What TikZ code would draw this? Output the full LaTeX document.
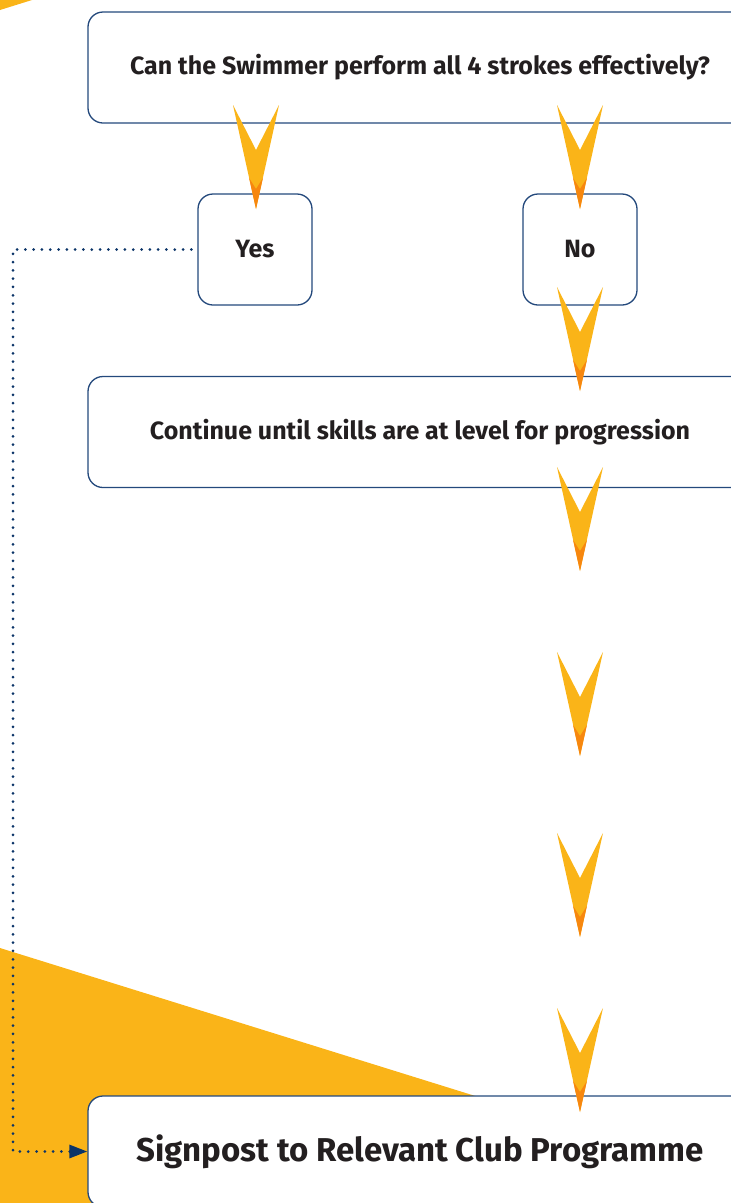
\documentclass[tikz,border=0pt]{standalone}
\usepackage{fontspec}
\setmainfont{Fira Sans}
\usetikzlibrary{arrows.meta}

\definecolor{boxnavy}{HTML}{24497C}
\definecolor{dotnavy}{HTML}{0B3468}
\definecolor{swimyellow}{HTML}{FAB418}
\definecolor{tiporange}{HTML}{F7870F}
\definecolor{textdark}{HTML}{231F20}

% Yellow chevron pointing down: #1 = centre x, #2 = top y
\newcommand{\swimarrow}[2]{%
    \fill[swimyellow] (#1-23,#2) -- (#1,#2+45) -- (#1+23,#2) -- (#1,#2+104) -- cycle;
    \fill[tiporange] (#1-6.9,#2+73) -- (#1,#2+84) -- (#1+6.9,#2+73) -- (#1,#2+104) -- cycle;}

\begin{document}
\begin{tikzpicture}[x=1pt,y=-1pt,
        box/.style={draw=boxnavy, line width=1.3pt, fill=white, rounded corners=15pt,
            text=textdark, inner sep=0pt, font=\bfseries\fontsize{25}{30}\selectfont},
        widebox/.style={box, minimum width=664pt, minimum height=111pt},
        answerbox/.style={box, minimum width=114pt, minimum height=111pt},
        link/.style={draw=dotnavy, line width=3pt, line cap=round, dash pattern=on 0pt off 8.3pt}]
        \useasboundingbox (0,0) rectangle (731,1203);
        \clip (0,0) rectangle (731,1203);

        % Draw yellow corner shapes
        \fill[swimyellow] (0,0) -- (32,0) -- (0,10) -- cycle;
        \fill[swimyellow] (0,948) -- (731,1175.6) -- (731,1203) -- (0,1203) -- cycle;

        % Draw boxes
        \node[widebox] (question) at (420,67.5) {Can the Swimmer perform all 4 strokes effectively?};
        \node[answerbox] (yes) at (255,249.5) {Yes};
        \node[answerbox] (no) at (580,249.5) {No};
        \node[widebox] (continue) at (420,432) {Continue until skills are at level for progression};
        \node[widebox, font=\bfseries\fontsize{33}{40}\selectfont] (signpost) at (420,1151.5) {Signpost to Relevant Club Programme};

        % Add chevrons
        \foreach \x/\y in {256/105, 580/105, 580/287, 580/467, 580/652, 580/833, 580/1008} {
            \swimarrow{\x}{\y}
        }

        % Dotted link from Yes to the signpost
        \coordinate (corner) at (13,1151.5);
        \draw[link, -{Triangle[length=18pt,width=13pt]}] ([xshift=-6pt]yes.west) -| (corner) -- (signpost.west);
    \end{tikzpicture}
\end{document}
